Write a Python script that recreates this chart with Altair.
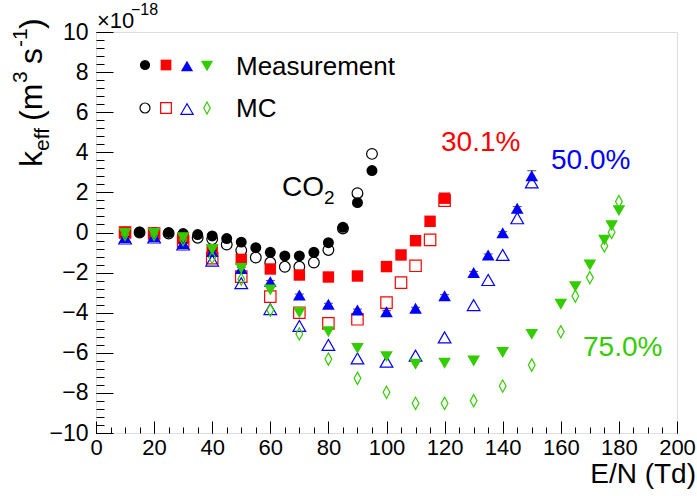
import altair as alt
import pandas as pd

# ---------------- data ----------------
E_co2 = [10, 15, 20, 25, 30, 35, 40, 45, 50, 55, 60, 65, 70, 75, 80, 85, 90, 95]
k_co2_meas = [0.0, 0.03, 0.0, 0.0, -0.05, -0.1, -0.17, -0.3, -0.48, -0.76, -0.99, -1.17, -1.17, -0.99, -0.51, 0.26, 1.49, 3.09]
k_co2_mc = [0.0, 0.0, -0.02, -0.05, -0.12, -0.26, -0.33, -0.6, -0.89, -1.25, -1.5, -1.71, -1.71, -1.5, -0.87, 0.2, 1.96, 3.92]

E_30 = [10, 20, 30, 40, 50, 60, 70, 80, 90, 100, 105, 110, 115, 120]
k_30_meas = [0.0, -0.05, -0.3, -0.87, -1.34, -1.82, -2.12, -2.22, -2.17, -1.7, -1.12, -0.41, 0.56, 1.71]
k_30_mc = [0.0, -0.05, -0.45, -1.28, -2.2, -3.2, -4.0, -4.53, -4.33, -3.5, -2.5, -1.66, -0.37, 1.59]

E_50 = [10, 20, 30, 40, 50, 60, 70, 80, 90, 100, 110, 120, 130, 135, 140, 145, 150]
k_50_meas = [-0.25, -0.2, -0.55, -0.95, -1.8, -2.45, -3.12, -3.58, -3.87, -3.95, -3.78, -3.15, -1.99, -1.12, -0.01, 1.21, 2.83]
err_50_meas = [0.05, 0.05, 0.05, 0.05, 0.05, 0.05, 0.05, 0.05, 0.05, 0.05, 0.05, 0.05, 0.05, 0.05, 0.05, 0.08, 0.25]
k_50_mc = [-0.3, -0.25, -0.6, -1.4, -2.53, -3.82, -4.66, -5.61, -6.28, -6.44, -6.14, -5.23, -3.62, -2.37, -1.12, 0.71, 2.5]

E_75 = [10, 20, 30, 40, 50, 60, 70, 80, 90, 100, 110, 120, 130, 140, 150, 160, 165, 170, 175, 177.5, 180]
k_75_meas = [-0.05, -0.05, -0.26, -0.85, -1.79, -2.87, -4.0, -4.95, -5.78, -6.19, -6.57, -6.52, -6.41, -5.98, -5.08, -3.58, -2.7, -1.62, -0.38, 0.34, 1.09]
k_75_mc = [-0.1, -0.1, -0.35, -1.25, -2.33, -3.87, -5.06, -6.31, -7.27, -7.97, -8.52, -8.52, -8.39, -7.66, -6.61, -4.95, -3.17, -2.25, -0.67, 0.01, 1.54]

x_ticks = [0, 20, 40, 60, 80, 100, 120, 140, 160, 180, 200]
y_ticks = [-10, -8, -6, -4, -2, 0, 2, 4, 6, 8, 10]
x_minor = list(range(0, 201, 5))
y_minor = [round(-10 + 0.4 * i, 1) for i in range(51)]

# ---------------- layout ----------------
W, H = 581, 401
PL, PT = 96, 32
FONT = "Liberation Sans"
RED, BLUE, GREEN = "#ff0000", "#0000ff", "#33cc00"
DIAMOND = "M0,-1L0.55,0L0,1L-0.55,0Z"

xs = alt.Scale(domain=[0, 200], nice=False, zero=False)
ys = alt.Scale(domain=[-10, 10], nice=False, zero=False)


def pts(E, k, shape, color, filled, size):
    df = pd.DataFrame({"E": E, "k": k})
    return alt.Chart(df).mark_point(
        shape=shape, filled=filled, color=color, size=size, opacity=1, strokeWidth=1.2
    ).encode(
        x=alt.X("E:Q", scale=xs, axis=None),
        y=alt.Y("k:Q", scale=ys, axis=None),
    )


dummy = pd.DataFrame({"E": [0.0], "k": [0.0]})


def axis_layer(xaxis, yaxis):
    return alt.Chart(dummy).mark_point(opacity=0).encode(
        x=alt.X("E:Q", scale=xs, axis=xaxis),
        y=alt.Y("k:Q", scale=ys, axis=yaxis),
    )


def tick_axis(orient, offset, values, size):
    return alt.Axis(orient=orient, offset=offset, values=values, ticks=True, tickSize=size,
                    tickColor="black", tickWidth=1, labels=False, domain=False, grid=False, title=None)


def txt(s, X, Y, size, color="black", angle=0, align="left", baseline="alphabetic"):
    return alt.Chart(pd.DataFrame({"t": [s]})).mark_text(
        text=s, font=FONT, fontSize=size, color=color, angle=angle, align=align, baseline=baseline
    ).encode(x=alt.value(X - PL), y=alt.value(Y - PT))


def legmark(X, Y, shape, color, filled, size):
    return alt.Chart(pd.DataFrame({"a": [0]})).mark_point(
        shape=shape, filled=filled, color=color, size=size, opacity=1, strokeWidth=1.2
    ).encode(x=alt.value(X - PL), y=alt.value(Y - PT))


label_axes = axis_layer(
    alt.Axis(orient="bottom", values=x_ticks, ticks=False, domain=False, grid=False, labelFont=FONT,
             labelFontSize=22, labelColor="black", labelPadding=4, format="d", title=None,
             labelFlush=False, labelOverlap=False),
    alt.Axis(orient="left", values=y_ticks, ticks=False, domain=False, grid=False, labelFont=FONT,
             labelFontSize=23, labelColor="black", labelPadding=8, format="d", title=None,
             labelFlush=False, labelOverlap=False),
)
xmaj = axis_layer(tick_axis("top", -H, x_ticks, 12), None)
xmin = axis_layer(tick_axis("top", -H, x_minor, 6), None)
ymaj = axis_layer(None, tick_axis("right", -W, y_ticks, 17))
ymin = axis_layer(None, tick_axis("right", -W, y_minor, 8))

err_df = pd.DataFrame({"E": E_50, "lo": [a - b for a, b in zip(k_50_meas, err_50_meas)],
                       "hi": [a + b for a, b in zip(k_50_meas, err_50_meas)]})
err_rule = alt.Chart(err_df).mark_rule(color="black", strokeWidth=1).encode(
    x=alt.X("E:Q", scale=xs, axis=None), y=alt.Y("lo:Q", scale=ys, axis=None), y2="hi:Q")
err_cap = alt.Chart(err_df).mark_tick(color="black", orient="horizontal", size=9, thickness=1).encode(
    x=alt.X("E:Q", scale=xs, axis=None), y=alt.Y("hi:Q", scale=ys, axis=None))

data_layers = [
    pts(E_co2, k_co2_mc, "circle", "black", False, 115),
    pts(E_co2, k_co2_meas, "circle", "black", True, 120),
    pts(E_30, k_30_mc, "square", RED, False, 130),
    pts(E_30, k_30_meas, "square", RED, True, 130),
    pts(E_50, k_50_mc, "triangle-up", BLUE, False, 160),
    err_rule, err_cap,
    pts(E_50, k_50_meas, "triangle-up", BLUE, True, 160),
    pts(E_75, k_75_mc, DIAMOND, GREEN, False, 150),
    pts(E_75, k_75_meas, "triangle-down", GREEN, True, 160),
]

legend = [
    legmark(145, 65, "circle", "black", True, 105),
    legmark(166, 65, "square", RED, True, 115),
    legmark(187, 66, "triangle-up", BLUE, True, 150),
    legmark(207, 66, "triangle-down", GREEN, True, 150),
    legmark(145, 108, "circle", "black", False, 100),
    legmark(166, 108, "square", RED, False, 115),
    legmark(187, 109, "triangle-up", BLUE, False, 150),
    legmark(207, 108, DIAMOND, GREEN, False, 140),
    txt("Measurement", 236, 75, 26),
    txt("MC", 236, 117, 26),
]

texts = [
    txt("CO", 282, 196, 28),
    txt("2", 324, 204, 19),
    txt("30.1%", 441, 151, 28, RED),
    txt("50.0%", 551, 169, 28, BLUE),
    txt("75.0%", 583, 356, 28, GREEN),
    txt("E/N (Td)", 696, 483, 28, align="right"),
    txt("\u00d710", 97, 28, 22),
    txt("\u221218", 131, 15, 16),
    # y title, rotated, reading bottom to top
    txt("k", 42, 167, 32, angle=270),
    txt("eff", 49, 151, 21, angle=270),
    txt("(m", 42, 121, 32, angle=270),
    txt("3", 27, 83, 21, angle=270),
    txt("s", 42, 64, 32, angle=270),
    txt("-1", 27, 47, 21, angle=270),
    txt(")", 42, 29, 32, angle=270),
]

chart = alt.layer(
    label_axes, xmaj, xmin, ymaj, ymin, *data_layers, *legend, *texts
).resolve_axis(
    x="independent", y="independent"
).properties(
    width=W, height=H,
    padding={"left": PL, "top": PT, "right": 697 - PL - W, "bottom": 496 - PT - H},
    autosize=alt.AutoSizeParams(type="none"),
).configure_view(
    stroke="black", strokeWidth=1.2
).configure(background="white")

chart.save("out.html", embed_options={"renderer": "svg", "actions": False})
